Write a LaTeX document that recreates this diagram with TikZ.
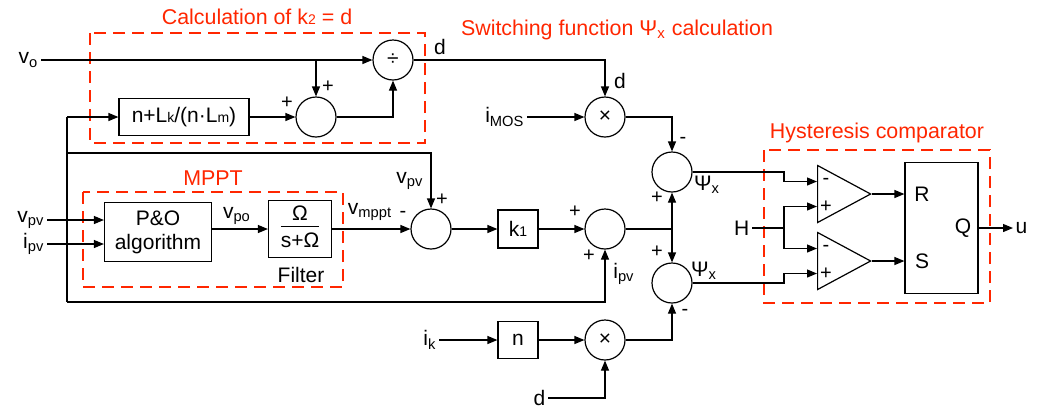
\documentclass[tikz,border=0pt]{standalone}
\usepackage{fontspec}
\setmainfont{Liberation Sans}
\usepackage{xcolor}
\usetikzlibrary{positioning,arrows.meta,shapes.geometric,calc}
\definecolor{grpred}{RGB}{255,38,0}
\newcommand{\lowsub}[1]{{\fontsize{7}{7}\selectfont #1}}

\begin{document}
\begin{tikzpicture}[
    x=0.5pt,y=-0.5pt,semithick,
    font=\fontsize{10.5}{12}\selectfont,
    blk/.style={draw,minimum width=#1,minimum height=18.5pt,inner sep=2pt,align=center},
    blk/.default=20pt,
    sumc/.style={draw,circle,minimum size=20pt,inner sep=0pt},
    cmp/.style={draw,isosceles triangle,isosceles triangle stretches,minimum width=28.5pt,minimum height=26.5pt,inner sep=0pt,anchor=west},
    lbl/.style={inner sep=1pt},
    sgn/.style={inner sep=0pt,font=\fontsize{10}{10}\selectfont},
    grp/.style={draw=grpred,line width=1.3pt,dash pattern=on 6pt off 3.5pt},
    grptitle/.style={text=grpred,inner sep=1pt,font=\fontsize{10.7}{12}\selectfont},
    arr/.style={-{Triangle[length=5pt,width=4pt]}}
  ]
    \useasboundingbox (0,0) rectangle (1039,409);
    \draw[grp] (90,33) rectangle (425,143);
    \draw[grp] (83,192) rectangle (343,287);
    \draw[grp] (764,150) rectangle (990,303);
    \node[grptitle] (tcalc) at (257,17) {Calculation of k\lowsub{2} = d};
    \node[grptitle] (tswitch) at (617,30) {Switching function Ψ\textsubscript{x} calculation};
    \node[grptitle] (tmppt) at (213,178) {MPPT};
    \node[grptitle] (thyst) at (877,133) {Hysteresis comparator};

    \node[lbl,anchor=east] (vo) at (41,60) {v\textsubscript{o}};
    \node[sumc] (div) at (393,60) {÷};
    \node[sumc] (sumk) at (316,117) {};
    \node[blk=65pt] (kbox) at (184,117) {n+L\lowsub{k}/(n·L\lowsub{m})};
    \node[lbl] (dtop) at (440,47) {d};
    \node[sumc] (mulone) at (605,117) {×};
    \node[lbl] (dmul) at (620,81) {d};
    \node[lbl,anchor=east] (imos) at (527,117) {i\textsubscript{MOS}};
    \node[sumc] (sumone) at (672,172) {};

    \node[lbl,anchor=east] (vpvin) at (47,220) {v\textsubscript{pv}};
    \node[lbl,anchor=east] (ipvin) at (47,244) {i\textsubscript{pv}};
    \node[blk=53.5pt,minimum height=29.5pt] (po) at (158,232) {P\&O\\algorithm};
    \node[blk=31.5pt,minimum height=28.5pt,inner sep=1pt] (filt) at (300,229) {\begin{tabular}{@{}c@{}}Ω\\[-1pt]\hline\rule{0pt}{10.5pt}s+Ω\end{tabular}};
    \node[lbl] (filtname) at (301,275) {Filter};
    \node[lbl] (vpo) at (237,216) {v\textsubscript{po}};
    \node[sumc] (sumtwo) at (431,229) {};
    \node[lbl] (vmppt) at (370,212) {v\textsubscript{mppt}};
    \node[lbl] (vpv) at (410,181) {v\textsubscript{pv}};
    \node[blk,minimum height=19pt] (kone) at (518,229) {k\lowsub{1}};
    \node[sumc] (sumthree) at (605,229) {};
    \node[lbl] (ipv) at (624,274) {i\textsubscript{pv}};
    \node[sumc] (sumfour) at (672,283) {};
    \node[lbl] (psione) at (707,185) {Ψ\textsubscript{x}};
    \node[lbl] (psitwo) at (704,271) {Ψ\textsubscript{x}};

    \node[lbl,anchor=east] (ik) at (439,340) {i\textsubscript{k}};
    \node[blk] (nbox) at (518,340) {n};
    \node[sumc] (multwo) at (605,340) {×};
    \node[lbl,anchor=east] (dbot) at (548,398) {d};

    \node[lbl,anchor=east] (hin) at (752,228) {H};
    \node[cmp] (cmpa) at (817,194) {};
    \node[cmp] (cmpb) at (817,261) {};
    \node[draw,minimum width=36.5pt,minimum height=65.5pt] (sr) at (941.5,228) {};
    \node[lbl] (rin) at (922,194) {R};
    \node[lbl] (sin) at (922,261) {S};
    \node[lbl] (qout) at (963,228) {Q};
    \node[lbl,anchor=west] (uout) at (1013,228) {u};

    \node[sgn] at (328,87) {+};
    \node[sgn] at (287,103) {+};
    \node[sgn] at (683,140) {-};
    \node[sgn] at (442,200) {+};
    \node[sgn] at (403,214) {-};
    \node[sgn] at (575,212) {+};
    \node[sgn] at (589,256) {+};
    \node[sgn] at (657,198) {+};
    \node[sgn] at (657,252) {+};
    \node[sgn] at (685,312) {-};

    \coordinate (jvo) at (sumk |- vo);
    \coordinate (ltop) at (67,117);
    \coordinate (lmid) at (67,153);
    \coordinate (lbot) at (67,302);
    \coordinate (jpsi) at (sumone |- sumthree);
    \coordinate (hj) at (784,228);
    \coordinate (am) at ($(cmpa.west)+(0,-12.5)$);
    \coordinate (ap) at ($(cmpa.west)+(0,12.5)$);
    \coordinate (bm) at ($(cmpb.west)+(0,-12.5)$);
    \coordinate (bp) at ($(cmpb.west)+(0,12.5)$);
    \node[sgn] at ($(am)+(9,0)$) {-};
    \node[sgn] at ($(ap)+(9,0)$) {+};
    \node[sgn] at ($(bm)+(9,0)$) {-};
    \node[sgn] at ($(bp)+(9,0)$) {+};

    \foreach \x/\y in {vo/div,jvo/sumk,kbox/sumk,ltop/kbox,imos/mulone,filt/sumtwo,sumtwo/kone,kone/sumthree,jpsi/sumone,jpsi/sumfour,ik/nbox,nbox/multwo,sr/uout}
      \draw[arr] (\x) -- (\y);
    \draw[arr] (sumk) -| (div);
    \draw[arr] (div) -| (mulone);
    \draw[arr] (mulone) -| (sumone);
    \draw (ltop) -- (lbot);
    \draw[arr] (lmid) -| (sumtwo);
    \draw[arr] (lbot) -| (sumthree);
    \draw[arr] (vpvin) -- (vpvin -| po.west);
    \draw[arr] (ipvin) -- (ipvin -| po.west);
    \draw[arr] (po.east |- filt) -- (filt);
    \draw (sumthree) -- (jpsi);
    \draw[arr] (dbot) -| (multwo);
    \draw[arr] (multwo) -| (sumfour);
    \draw (hin) -- (hj);
    \draw[arr] (hj) |- (ap);
    \draw[arr] (hj) |- (bm);
    \draw[arr] (sumone) -- (sumone -| hj) |- (am);
    \draw[arr] (sumfour) -- (sumfour -| hj) |- (bp);
    \draw[arr] (cmpa.apex) -- (cmpa.apex -| sr.west);
    \draw[arr] (cmpb.apex) -- (cmpb.apex -| sr.west);
  \end{tikzpicture}
\end{document}
